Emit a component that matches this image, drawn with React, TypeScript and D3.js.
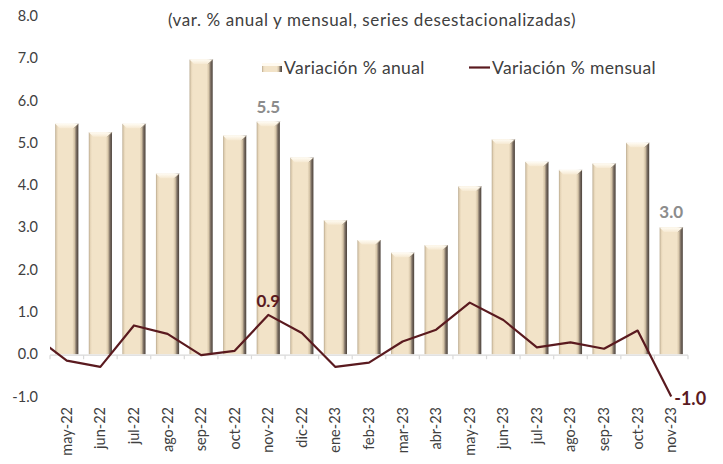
import React from "react";
import * as d3 from "d3";

const categories = ["may-22","jun-22","jul-22","ago-22","sep-22","oct-22","nov-22","dic-22","ene-23","feb-23","mar-23","abr-23","may-23","jun-23","jul-23","ago-23","sep-23","oct-23","nov-23"];
const anual = [5.45,5.25,5.45,4.27,6.97,5.17,5.5,4.65,3.17,2.7,2.4,2.58,3.97,5.08,4.55,4.36,4.51,5.0,3.0];
const mensual = [-0.15,-0.3,0.68,0.48,-0.02,0.08,0.93,0.5,-0.3,-0.2,0.3,0.58,1.22,0.81,0.16,0.28,0.13,0.56,-1.0];
const priorMensual = 0.45; // abr-22, partly visible at the left edge
const yTicks = [-1,0,1,2,3,4,5,6,7,8];

const W = 723, H = 464;
const FONT = "Lato, 'DejaVu Sans', sans-serif";

export default function App() {
  const x = d3.scaleBand<string>().domain(categories).range([50, 688]).paddingInner(0.31).paddingOuter(0.155);
  const y = d3.scaleLinear().domain([-1, 8]).range([396.5, 16]);
  const step = x.step();
  const bw = x.bandwidth();
  const cx = (i: number) => (x(categories[i]) as number) + bw / 2;

  const pts: [number, number][] = [[cx(0) - step, y(priorMensual)], ...mensual.map((v, i) => [cx(i), y(v)] as [number, number])];
  const line = d3.line<[number, number]>().x(d => d[0]).y(d => d[1]);
  const y0 = y(0);
  const bevel = 4.5;

  return (
    <svg width={W} height={H} style={{ position: "absolute", left: 0, top: 0, fontFamily: FONT }}>
      <defs>
        <linearGradient id="barH" x1="0" x2="1" y1="0" y2="0">
          <stop offset="0" stopColor="#b9a98e" />
          <stop offset="0.07" stopColor="#e6d5b8" />
          <stop offset="0.14" stopColor="#f2e3c8" />
          <stop offset="0.74" stopColor="#f2e3c8" />
          <stop offset="0.83" stopColor="#d6c5a8" />
          <stop offset="0.91" stopColor="#7d7064" />
          <stop offset="1" stopColor="#4a413a" />
        </linearGradient>
        <linearGradient id="barTop" x1="0" x2="0" y1="0" y2="1">
          <stop offset="0" stopColor="#fffcf4" />
          <stop offset="1" stopColor="#f6e9d2" />
        </linearGradient>
        <clipPath id="plotClip">
          <rect x={50} y={0} width={638} height={H} />
        </clipPath>
      </defs>
      <rect x={0} y={0} width={W} height={H} fill="#ffffff" />

      {/* title */}
      <text x={372} y={26} textAnchor="middle" fontSize={17} letterSpacing={0.6} fill="#404040">(var. % anual y mensual, series desestacionalizadas)</text>

      {/* y axis labels */}
      {yTicks.map(t => (
        <text key={t} x={38} y={y(t) + 5} textAnchor="end" fontSize={14.5} fill="#404040">{t.toFixed(1)}</text>
      ))}

      {/* bars */}
      {anual.map((v, i) => {
        const bx = x(categories[i]) as number;
        const top = y(v);
        return (
          <g key={categories[i]}>
            <rect x={bx} y={top} width={bw} height={y0 - top} fill="url(#barH)" />
            <polygon points={`${bx},${top} ${bx + bw},${top} ${bx + bw - bevel},${top + bevel} ${bx + bevel},${top + bevel}`} fill="url(#barTop)" />
            <line x1={bx + bw - bevel} y1={top + bevel} x2={bx + bw} y2={top} stroke="#a89a88" strokeWidth={0.8} />
          </g>
        );
      })}

      {/* x axis */}
      <line x1={50} x2={688} y1={y0 + 1} y2={y0 + 1} stroke="#d9d9d9" strokeWidth={1.2} />
      {d3.range(categories.length + 1).map(i => (
        <line key={i} x1={50 + i * step} x2={50 + i * step} y1={y0 + 1} y2={y0 + 5} stroke="#d9d9d9" strokeWidth={1.2} />
      ))}
      {categories.map((c, i) => (
        <text key={c} transform={`translate(${cx(i) + 5},${407}) rotate(-90)`} textAnchor="end" fontSize={14.5} fill="#404040">{c}</text>
      ))}

      {/* line */}
      <path d={line(pts) as string} fill="none" stroke="#5a1a1f" strokeWidth={2.2} strokeLinejoin="round" clipPath="url(#plotClip)" />

      {/* data labels */}
      <text x={cx(6)} y={113} textAnchor="middle" fontSize={17} fontWeight="bold" fill="#8c8c8c">{anual[6].toFixed(1)}</text>
      <text x={cx(18)} y={y(anual[18]) - 9} textAnchor="middle" fontSize={17} fontWeight="bold" fill="#8c8c8c">{anual[18].toFixed(1)}</text>
      <text x={cx(6)} y={y(mensual[6]) - 8} textAnchor="middle" fontSize={17} fontWeight="bold" fill="#5a1a1f">{mensual[6].toFixed(1)}</text>
      <text x={cx(18) + 3} y={y(mensual[18]) + 8} textAnchor="start" fontSize={18} fontWeight="bold" fill="#5a1a1f">{mensual[18].toFixed(1)}</text>

      {/* legend */}
      <g>
        <rect x={262} y={63} width={20} height={9} fill="url(#barH)" />
        <rect x={262} y={63} width={20} height={3} fill="#fffaf0" />
        <text x={284} y={74} fontSize={17.5} letterSpacing={0.35} fill="#404040">Variación % anual</text>
        <line x1={469} x2={490} y1={67.5} y2={67.5} stroke="#5a1a1f" strokeWidth={2.2} />
        <text x={492} y={74} fontSize={17.5} letterSpacing={0.35} fill="#404040">Variación % mensual</text>
      </g>
    </svg>
  );
}
